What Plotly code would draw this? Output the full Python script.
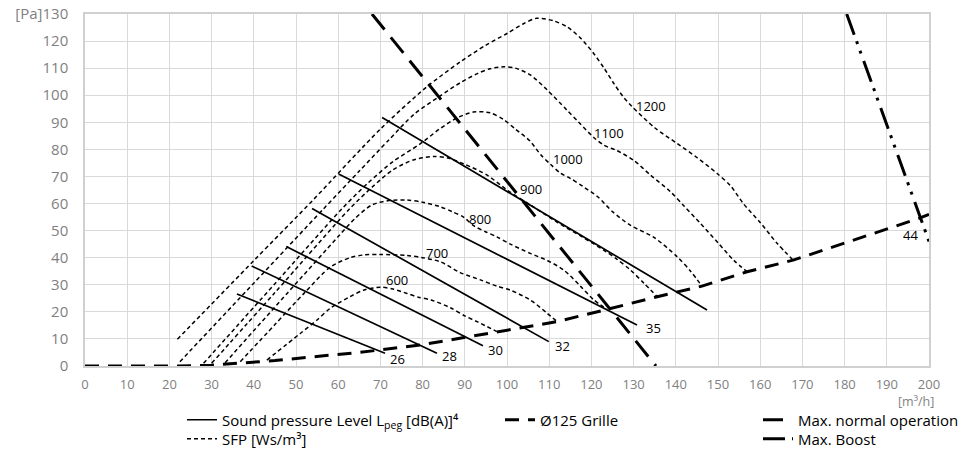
import plotly.graph_objects as go

# ---- SFP curves [Ws/m3]: airflow [m3/h] vs pressure [Pa] ----
sfp600_x = [43.1, 51, 55, 58.1, 62.8, 66, 70, 73, 76.3, 79, 82, 86.6, 90, 92.9, 97.6]
sfp600_y = [2.2, 12, 17, 21.3, 25.6, 28, 29.1, 28.4, 26.8, 25.4, 24.4, 21.5, 18.5, 16.4, 12.7]

sfp700_x = [36.8, 45, 52, 58.1, 62.8, 66, 70, 76.3, 80, 84.2, 88.9, 93.7, 97.6, 100.8, 105.5, 109.5, 111.9]
sfp700_y = [1.6, 15.3, 27, 36.5, 40, 41, 41.2, 40.8, 40, 38.5, 34.5, 31.8, 29.5, 28, 24.4, 19.5, 16.4]

sfp800_x = [33.2, 48, 60, 64, 68, 72, 76.3, 80, 84.2, 87, 89.7, 92.1, 95, 97.6, 100.8, 105.5, 109.5, 113.4, 117.4, 120.5, 123.7]
sfp800_y = [1.2, 27, 47.8, 54.5, 59.5, 61.1, 61.3, 60.5, 58.8, 57, 55, 51.8, 49.5, 47.7, 45, 41.6, 39, 35.5, 29.5, 24.5, 21]

sfp900_x = [30, 45, 62.8, 68, 73, 78, 82.6, 86, 90, 95.3, 100, 106, 112, 118, 122.9, 126, 129.2, 132.5, 135.6]
sfp900_y = [1, 27.1, 58.2, 66, 72.5, 76.2, 77.4, 76.8, 74.5, 70.5, 65, 59, 53, 47.5, 42.8, 39.5, 35.5, 30.5, 25.6]

sfp1000_x = [28.1, 45, 60.9, 67, 73, 79.4, 84, 88, 92, 96, 99.2, 102, 105.5, 108, 110.3, 112.6, 115, 118, 121.5, 125, 129.2, 134.8, 140.3, 143.5, 146.2]
sfp1000_y = [1, 30.4, 58.1, 67.5, 75.5, 82, 87.5, 91.5, 93.8, 93.5, 91, 87.5, 83, 78, 74.5, 71.3, 69.3, 66.3, 62.5, 57, 52, 47.5, 40.4, 35, 29.5]

sfp1100_x = [22.5, 40, 56.5, 65, 72, 78, 84.2, 88.9, 93, 96, 99.2, 102, 105.5, 109.5, 114.2, 117, 120.5, 123, 126.1, 130, 134, 138.7, 142, 145.8, 150, 153.7, 156.9]
sfp1100_y = [1.6, 30.6, 58, 72, 83.5, 93, 99.8, 104.6, 108, 109.8, 110.5, 110, 107.5, 102, 94.5, 90, 84.5, 81.5, 79.5, 76, 70.5, 64.4, 59, 52.7, 45.5, 39.1, 34.8]

sfp1200_x = [21.9, 40, 54.1, 70, 81, 89, 95, 100, 104, 107, 111, 114.2, 117.5, 120.5, 123, 125.3, 127.5, 129.5, 135, 140.3, 145, 149.8, 153, 156, 160, 164, 167.8]
sfp1200_y = [9.9, 38.9, 61.4, 87.5, 103.1, 112.4, 118.5, 122.8, 126.5, 128.4, 127.5, 125.3, 121, 115.5, 110, 104.4, 99.5, 96, 88, 82.2, 77, 71.1, 66.5, 60, 53, 45.3, 39.1]

sfp_labels = ["600", "700", "800", "900", "1000", "1100", "1200"]
sfp_label_x = [70.9, 80.4, 90.5, 102.5, 110.4, 120.2, 130.0]
sfp_label_y = [31.8, 41.8, 54.3, 65.4, 76.4, 85.9, 96.0]

# ---- Sound pressure level lines [dB(A)] ----
spl_x0 = [36.0, 39.5, 47.7, 53.8, 60.1, 70.4]
spl_y0 = [26.6, 36.9, 44.1, 58.2, 70.9, 91.8]
spl_x1 = [71.1, 83.4, 94.3, 109.9, 130.8, 147.4]
spl_y1 = [4.7, 4.7, 7.5, 9.0, 15.1, 20.7]
spl_labels = ["26", "28", "30", "32", "35", "44"]
spl_label_x = [71.9, 84.2, 95.1, 110.8, 132.4, 193.3]
spl_label_y = [2.5, 3.7, 5.9, 7.5, 14.1, 48.4]

# ---- Ø125 grille system curve ----
grille_x = [0, 22, 30, 36.4, 45, 56, 65, 79.4, 98.4, 111.9, 123.7, 135.6, 146.2, 156.9, 167.8, 182, 197.6, 200]
grille_y = [0, 0, 0.3, 1.0, 2.0, 3.7, 5.0, 7.75, 12.7, 16.4, 20.9, 25.6, 29.5, 34.8, 39.1, 46.4, 54.5, 56]

# ---- operating limits ----
max_normal_x = [68.0, 135.3]
max_normal_y = [130, 0]
max_boost_x = [180.5, 200]
max_boost_y = [130, 46]

x_ticks = list(range(0, 201, 10))
y_ticks = list(range(0, 131, 10))
y_ticktext = [str(v) for v in y_ticks[:-1]] + ["[Pa]130"]

FONT = "Open Sans"
fig = go.Figure()

sfp_sets = [(sfp600_x, sfp600_y), (sfp700_x, sfp700_y), (sfp800_x, sfp800_y),
            (sfp900_x, sfp900_y), (sfp1000_x, sfp1000_y), (sfp1100_x, sfp1100_y),
            (sfp1200_x, sfp1200_y)]

# sound pressure lines
for i in range(len(spl_x0)):
    fig.add_trace(go.Scatter(
        x=[spl_x0[i], spl_x1[i]], y=[spl_y0[i], spl_y1[i]], mode="lines",
        line=dict(color="black", width=1.7),
        name="Sound pressure Level L<sub>peg</sub> [dB(A)]⁴",
        showlegend=(i == 0), legend="legend", hoverinfo="skip"))

# SFP curves
for i, (xs, ys) in enumerate(sfp_sets):
    fig.add_trace(go.Scatter(
        x=xs, y=ys, mode="lines", line_shape="spline",
        line=dict(color="black", width=1.5, dash="4px,3px", smoothing=0.8),
        name="SFP [Ws/m³]", showlegend=(i == 0), legend="legend2", hoverinfo="skip"))

fig.add_trace(go.Scatter(
    x=grille_x, y=grille_y, mode="lines",
    line=dict(color="black", width=3, dash="14px,9px"),
    name="Ø125 Grille", legend="legend3", hoverinfo="skip"))

fig.add_trace(go.Scatter(
    x=max_normal_x, y=max_normal_y, mode="lines",
    line=dict(color="black", width=3, dash="20px,10px"),
    name="Max. normal operation", legend="legend4", hoverinfo="skip"))

fig.add_trace(go.Scatter(
    x=max_boost_x, y=max_boost_y, mode="lines",
    line=dict(color="black", width=3, dash="22px,7px,3px,7px,3px,8px"),
    name="Max. Boost", legend="legend5", hoverinfo="skip"))

for t, x, y in zip(sfp_labels, sfp_label_x, sfp_label_y):
    fig.add_annotation(x=x, y=y, text=t, showarrow=False, xanchor="left", yanchor="middle",
                       font=dict(family=FONT, size=13, color="black"))
for t, x, y in zip(spl_labels, spl_label_x, spl_label_y):
    fig.add_annotation(x=x, y=y, text=t, showarrow=False, xanchor="left", yanchor="middle",
                       font=dict(family=FONT, size=13, color="black"))

fig.add_annotation(xref="paper", yref="paper", x=0.9846, y=(366 - 401) / 352, text="[m³/h]",
                   showarrow=False, xanchor="center", yanchor="middle",
                   font=dict(family=FONT, size=12.5, color="#7f7f7f"))


def legend_box(x, y):
    return dict(xref="container", yref="container", x=x, y=y,
                xanchor="left", yanchor="middle", bgcolor="rgba(0,0,0,0)",
                font=dict(family=FONT, size=15, color="black"), itemwidth=30)


row1, row2 = 1 - 420 / 459, 1 - 439 / 459

fig.update_layout(
    width=970, height=459,
    margin=dict(l=85, r=41, t=14, b=93, autoexpand=False),
    plot_bgcolor="white", paper_bgcolor="white",
    font=dict(family=FONT),
    showlegend=True,
    legend=legend_box(182 / 970, row1),
    legend2=legend_box(182 / 970, row2),
    legend3=legend_box(500 / 970, row1),
    legend4=legend_box(758 / 970, row1),
    legend5=legend_box(758 / 970, row2),
    xaxis=dict(range=[0, 200], tickvals=x_ticks, showgrid=True, gridcolor="#d9d9d9",
               gridwidth=1, zeroline=False, showline=True, linecolor="#d0d0d0", linewidth=1.5,
               mirror=True, ticks="", automargin=False,
               tickfont=dict(family=FONT, size=13, color="#7f7f7f"), ticklabelstandoff=6),
    yaxis=dict(range=[0, 130], tickvals=y_ticks, ticktext=y_ticktext, showgrid=True,
               gridcolor="#d9d9d9", gridwidth=1, zeroline=False, showline=True,
               linecolor="#d0d0d0", linewidth=1.5, mirror=True, ticks="", automargin=False,
               tickfont=dict(family=FONT, size=15, color="#7f7f7f"), ticklabelstandoff=12),
)

fig.write_html("out.html")
